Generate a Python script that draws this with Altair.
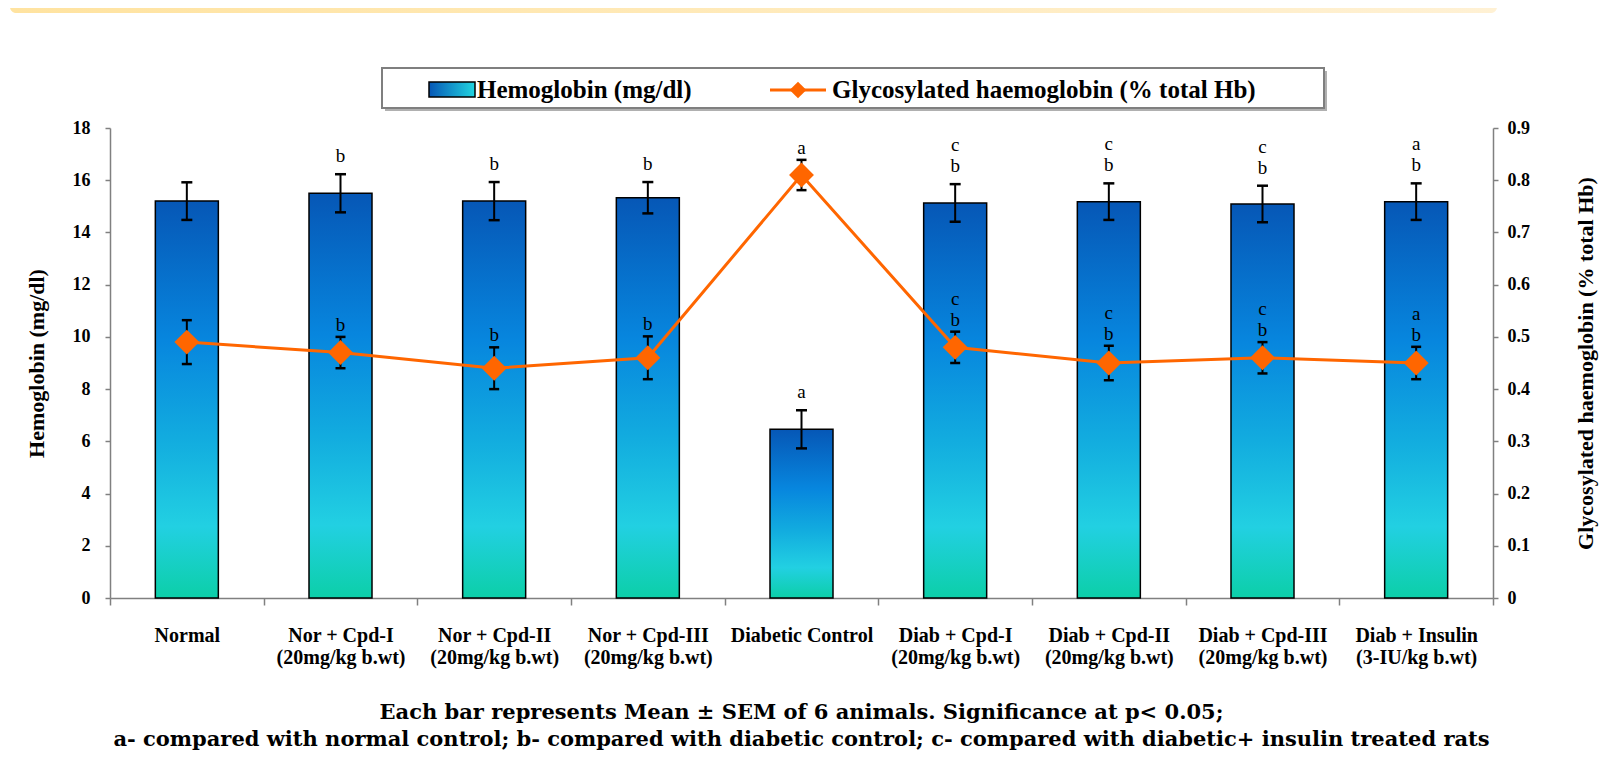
import altair as alt
import pandas as pd

# ---------------- data ----------------
categories = [
    "Normal",
    "Nor + Cpd-I|(20mg/kg b.wt)",
    "Nor + Cpd-II|(20mg/kg b.wt)",
    "Nor + Cpd-III|(20mg/kg b.wt)",
    "Diabetic Control",
    "Diab + Cpd-I|(20mg/kg b.wt)",
    "Diab + Cpd-II|(20mg/kg b.wt)",
    "Diab + Cpd-III|(20mg/kg b.wt)",
    "Diab + Insulin|(3-IU/kg b.wt)",
]
hemoglobin = [15.2, 15.5, 15.2, 15.33, 6.46, 15.13, 15.18, 15.09, 15.18]
hemoglobin_sem = [0.72, 0.73, 0.73, 0.6, 0.73, 0.72, 0.7, 0.7, 0.7]
glycosylated = [0.49, 0.47, 0.44, 0.46, 0.81, 0.48, 0.45, 0.46, 0.45]
glycosylated_sem = [0.042, 0.03, 0.04, 0.041, 0.029, 0.03, 0.033, 0.03, 0.031]
# significance letters, listed from the bottom of each stack upwards
bar_letters = [[], ["b"], ["b"], ["b"], ["a"], ["b", "c"], ["b", "c"], ["b", "c"], ["b", "a"]]
line_letters = [[], ["b"], ["b"], ["b"], ["a"], ["b", "c"], ["b", "c"], ["b", "c"], ["b", "a"]]
left_ticks = [0, 2, 4, 6, 8, 10, 12, 14, 16, 18]
right_ticks = [0, 0.1, 0.2, 0.3, 0.4, 0.5, 0.6, 0.7, 0.8, 0.9]
footer_lines = [
    "Each bar represents Mean \u00b1 SEM of 6 animals. Significance at p< 0.05;",
    "a- compared with normal control; b- compared with diabetic control; c- compared with diabetic+ insulin treated rats",
]

df = pd.DataFrame({
    "cat": categories,
    "hb": hemoglobin,
    "hb_sem": hemoglobin_sem,
    "gl": glycosylated,
    "gl_sem": glycosylated_sem,
})
df["hb_lo"] = df["hb"] - df["hb_sem"]
df["hb_hi"] = df["hb"] + df["hb_sem"]
df["gl_lo"] = df["gl"] - df["gl_sem"]
df["gl_hi"] = df["gl"] + df["gl_sem"]

bar_rows, line_rows = [], []
for c, h, s, lets in zip(categories, hemoglobin, hemoglobin_sem, bar_letters):
    for k, l in enumerate(lets):
        bar_rows.append({"cat": c, "top": h + s, "letter": l, "rank": k})
for c, g, s, lets in zip(categories, glycosylated, glycosylated_sem, line_letters):
    for k, l in enumerate(lets):
        line_rows.append({"cat": c, "top": g + s, "letter": l, "rank": k})
bar_let_df = pd.DataFrame(bar_rows)
line_let_df = pd.DataFrame(line_rows)

# ---------------- styles ----------------
SERIF = "Liberation Serif"
ORANGE = "#FF6600"
AXIS_GRAY = "#808080"
W, H = 1383, 470

bar_fill = alt.Gradient(
    gradient="linear", x1=0, x2=0, y1=0, y2=1,
    stops=[
        alt.GradientStop(color="#0657B6", offset=0),
        alt.GradientStop(color="#0786DE", offset=0.35),
        alt.GradientStop(color="#12ACDF", offset=0.6),
        alt.GradientStop(color="#22D0E2", offset=0.82),
        alt.GradientStop(color="#0CCFA8", offset=1),
    ],
)
swatch_fill = alt.Gradient(
    gradient="linear", x1=0, x2=1, y1=0, y2=0,
    stops=[
        alt.GradientStop(color="#0657B6", offset=0),
        alt.GradientStop(color="#22D5E0", offset=1),
    ],
)
banner_fill = alt.Gradient(
    gradient="linear", x1=0, x2=1, y1=0, y2=0,
    stops=[
        alt.GradientStop(color="#FFE3A0", offset=0),
        alt.GradientStop(color="#FFF1D4", offset=1),
    ],
)

x_enc = alt.X(
    "cat:N", sort=categories,
    scale=alt.Scale(paddingInner=0, paddingOuter=0),
    axis=alt.Axis(
        title=None, labelExpr="split(datum.label, '|')", labelAngle=0,
        tickBand="extent", tickSize=7, tickWidth=1.5, tickColor=AXIS_GRAY,
        domainColor=AXIS_GRAY, domainWidth=1.5,
        labelPadding=20, labelFont=SERIF, labelFontSize=20, labelFontWeight="bold",
        labelLineHeight=22, labelColor="black", labelLimit=400,
    ),
)

left_scale = alt.Scale(domain=[0, 18], nice=False, zero=True)
right_scale = alt.Scale(domain=[0, 0.9], nice=False, zero=True)

left_axis = alt.Axis(
    values=left_ticks, grid=False, title="Hemoglobin (mg/dl)",
    tickSize=5, tickWidth=1.5, tickColor=AXIS_GRAY, domainColor=AXIS_GRAY, domainWidth=1.5,
    labelPadding=15, labelFont=SERIF, labelFontSize=18, labelFontWeight="bold", labelColor="black",
    titlePadding=24, titleFont=SERIF, titleFontSize=22, titleFontWeight="bold", titleColor="black",
)
right_axis = alt.Axis(
    orient="right", values=right_ticks, grid=False,
    title="Glycosylated haemoglobin (% total Hb)",
    labelExpr="datum.value == 0 ? '0' : format(datum.value, '.1f')",
    tickSize=5, tickWidth=1.5, tickColor=AXIS_GRAY, domainColor=AXIS_GRAY, domainWidth=1.5,
    labelPadding=9, labelFont=SERIF, labelFontSize=18, labelFontWeight="bold", labelColor="black",
    titleAngle=270, titlePadding=68, titleFont=SERIF, titleFontSize=22,
    titleFontWeight="bold", titleColor="black",
)


def yl(field):
    return alt.Y(field, scale=left_scale, axis=left_axis)


def yr(field):
    return alt.Y(field, scale=right_scale, axis=right_axis)


base = alt.Chart(df)

bars = base.mark_bar(size=63, fill=bar_fill, stroke="black", strokeWidth=1.5).encode(
    x=x_enc, y=yl("hb:Q")
)
bar_err = base.mark_rule(color="black", strokeWidth=2).encode(
    x=x_enc, y=yl("hb_lo:Q"), y2="hb_hi:Q"
)
bar_cap_lo = base.mark_tick(color="black", thickness=2.5, size=11, opacity=1).encode(
    x=x_enc, y=yl("hb_lo:Q")
)
bar_cap_hi = base.mark_tick(color="black", thickness=2.5, size=11, opacity=1).encode(
    x=x_enc, y=yl("hb_hi:Q")
)


def letter_layer(data, yfun, rank, base_dy):
    return alt.Chart(data).transform_filter(alt.datum.rank == rank).mark_text(
        font=SERIF, fontSize=19, color="black", baseline="bottom", dy=base_dy - 21 * rank
    ).encode(x=x_enc, y=yfun("top:Q"), text="letter:N")


bar_let0 = letter_layer(bar_let_df, yl, 0, -8)
bar_let1 = letter_layer(bar_let_df, yl, 1, -8)

# decorations: banner, legend box, footer
one = alt.Data(values=[{"k": 1}])
banner = alt.Chart(one).mark_rect(fill=banner_fill, cornerRadius=6).encode(
    x=alt.value(-100), x2=alt.value(1387), y=alt.value(-132), y2=alt.value(-115)
)
legend_shadow = alt.Chart(one).mark_rect(fill="#B0B0B0").encode(
    x=alt.value(275), x2=alt.value(1217), y=alt.value(-57), y2=alt.value(-17)
)
legend_box = alt.Chart(one).mark_rect(fill="white", stroke="#7F7F7F", strokeWidth=2).encode(
    x=alt.value(272), x2=alt.value(1214), y=alt.value(-60), y2=alt.value(-20)
)
swatch = alt.Chart(one).mark_rect(fill=swatch_fill, stroke="black", strokeWidth=1.5).encode(
    x=alt.value(319), x2=alt.value(365), y=alt.value(-46), y2=alt.value(-31)
)
leg_text1 = alt.Chart(one).mark_text(
    align="left", baseline="middle", font=SERIF, fontSize=25, fontWeight="bold", color="black"
).encode(x=alt.value(367), y=alt.value(-38), text=alt.value("Hemoglobin (mg/dl)"))
leg_line = alt.Chart(one).mark_rule(color=ORANGE, strokeWidth=3).encode(
    x=alt.value(660), x2=alt.value(716), y=alt.value(-38)
)
leg_pt = alt.Chart(one).mark_point(shape="diamond", filled=True, size=280, color=ORANGE, opacity=1).encode(
    x=alt.value(688), y=alt.value(-38)
)
leg_text2 = alt.Chart(one).mark_text(
    align="left", baseline="middle", font=SERIF, fontSize=25, fontWeight="bold", color="black"
).encode(x=alt.value(722), y=alt.value(-38), text=alt.value("Glycosylated haemoglobin (% total Hb)"))
footer1 = alt.Chart(one).mark_text(
    align="center", baseline="middle", font="DejaVu Serif", fontSize=21, fontWeight="bold", color="black"
).encode(x=alt.value(W / 2), y=alt.value(585), text=alt.value(footer_lines[0]))
footer2 = alt.Chart(one).mark_text(
    align="center", baseline="middle", font="DejaVu Serif", fontSize=21, fontWeight="bold", color="black"
).encode(x=alt.value(W / 2), y=alt.value(612), text=alt.value(footer_lines[1]))

left = alt.layer(
    banner, legend_shadow, legend_box, swatch, leg_text1, leg_line, leg_pt, leg_text2,
    footer1, footer2,
    bars, bar_err, bar_cap_lo, bar_cap_hi, bar_let0, bar_let1,
)

line = base.mark_line(color=ORANGE, strokeWidth=3).encode(
    x=x_enc, y=yr("gl:Q")
)
line_err = base.mark_rule(color="black", strokeWidth=2).encode(
    x=x_enc, y=yr("gl_lo:Q"), y2="gl_hi:Q"
)
line_cap_lo = base.mark_tick(color="black", thickness=2.5, size=10, opacity=1).encode(
    x=x_enc, y=yr("gl_lo:Q")
)
line_cap_hi = base.mark_tick(color="black", thickness=2.5, size=10, opacity=1).encode(
    x=x_enc, y=yr("gl_hi:Q")
)
points = base.mark_point(shape="diamond", filled=True, size=620, color=ORANGE, opacity=1).encode(
    x=x_enc, y=yr("gl:Q")
)
line_let0 = letter_layer(line_let_df, yr, 0, -2)
line_let1 = letter_layer(line_let_df, yr, 1, -2)

right = alt.layer(line, line_err, line_cap_lo, line_cap_hi, points, line_let0, line_let1)

chart = alt.layer(left, right).resolve_scale(y="independent").properties(
    width=W, height=H,
    padding={"left": 102, "top": 120, "right": 116, "bottom": 152},
    autosize=alt.AutoSizeParams(type="none"),
    background="white",
).configure_view(strokeWidth=0)

chart.save("out.html", embed_options={"renderer": "svg", "actions": False})
